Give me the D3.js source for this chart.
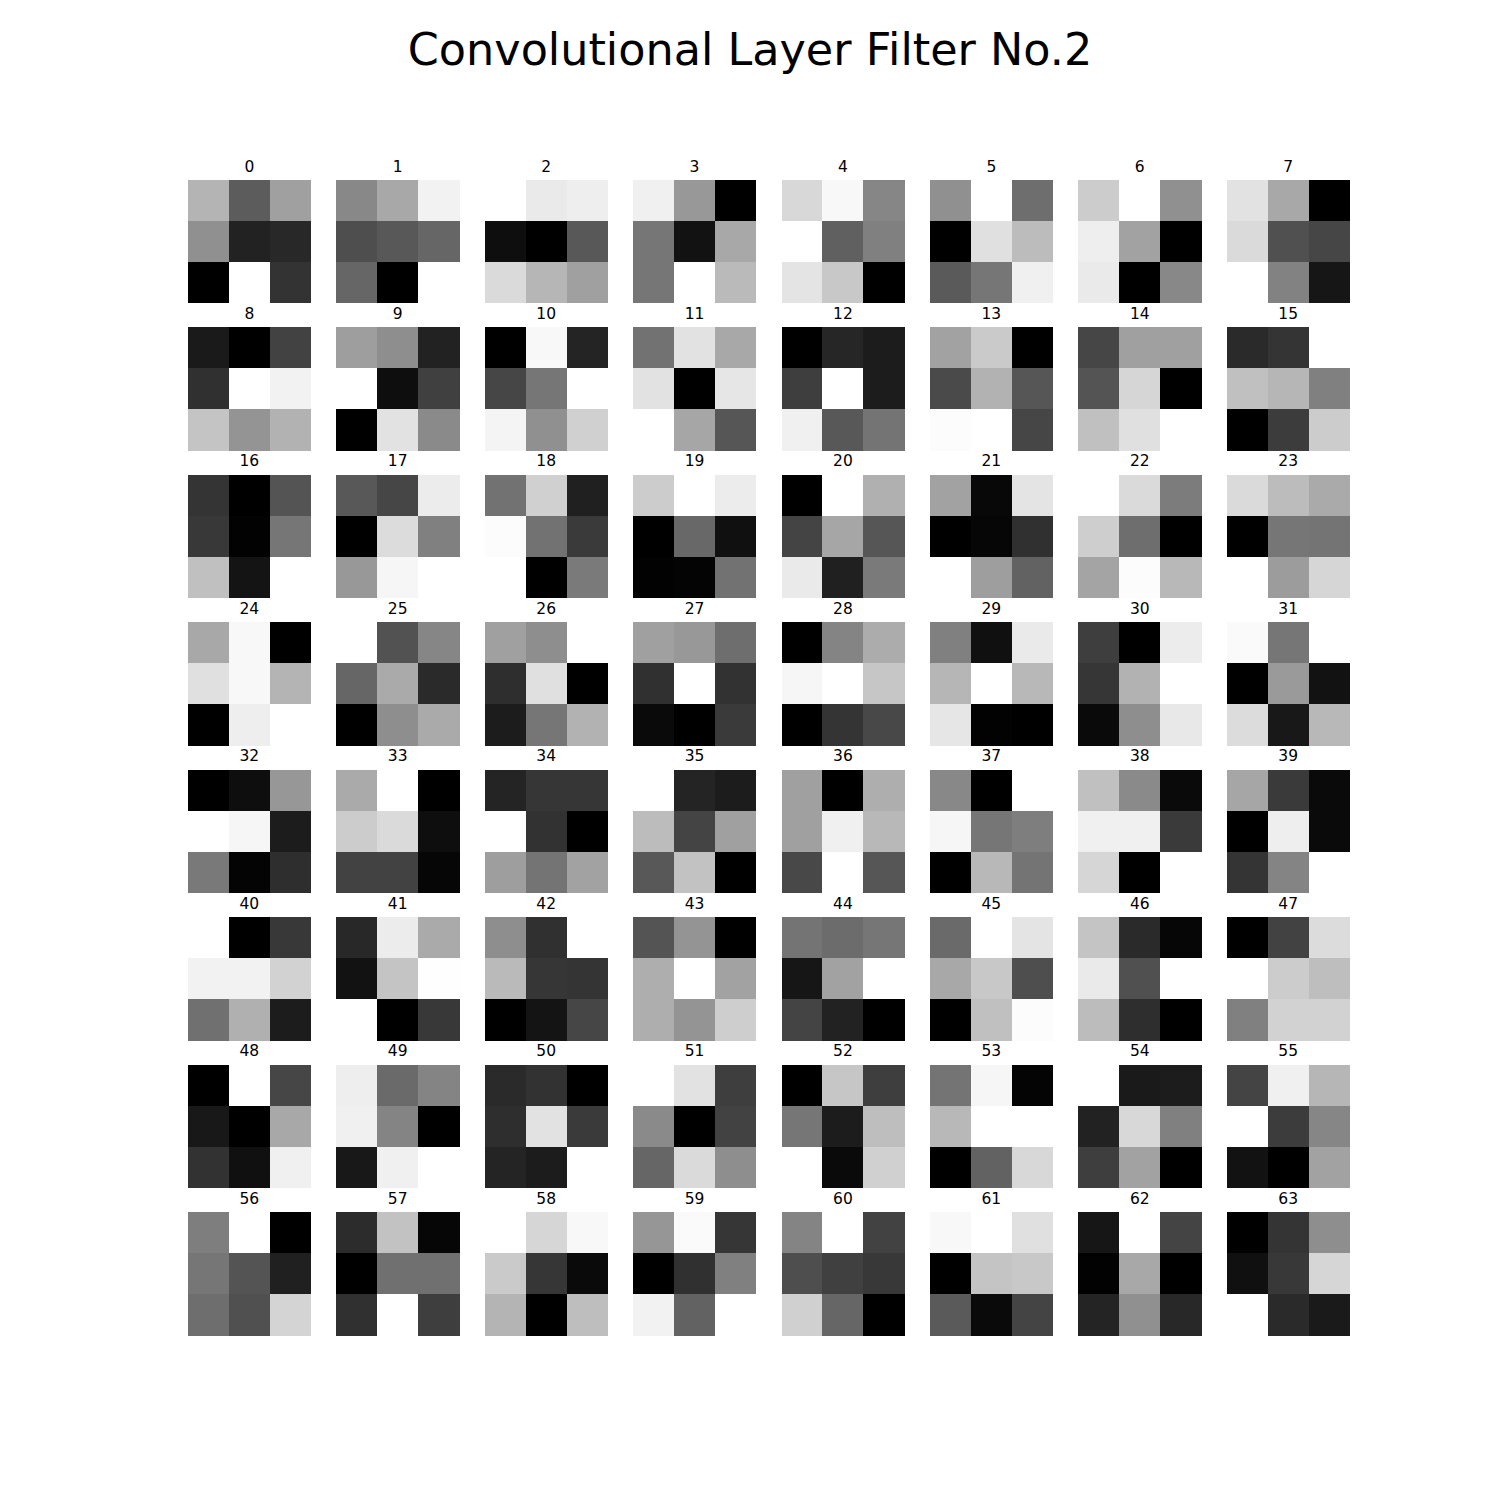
<!DOCTYPE html>
<html>
<head>
<meta charset="utf-8">
<script src="https://cdn.jsdelivr.net/npm/d3@7"></script>
<style>
  body { margin: 0; background: #fff; }
  text { font-family: "DejaVu Sans", sans-serif; }
</style>
</head>
<body>
<svg id="chart"></svg>
<script>
var filterWeights = [
  [0xb4,0x5c,0xa0, 0x90,0x22,0x28, 0x00,0xff,0x33],
  [0x88,0xa8,0xf2, 0x4e,0x58,0x66, 0x66,0x00,0xff],
  [0xff,0xea,0xee, 0x0e,0x00,0x58, 0xda,0xb6,0xa0],
  [0xf0,0x98,0x00, 0x76,0x12,0xa8, 0x76,0xff,0xba],
  [0xd8,0xf8,0x86, 0xff,0x60,0x80, 0xe4,0xc8,0x00],
  [0x90,0xff,0x6e, 0x00,0xe0,0xbc, 0x5a,0x76,0xf0],
  [0xcc,0xff,0x90, 0xee,0xa2,0x00, 0xea,0x00,0x88],
  [0xe2,0xa8,0x00, 0xda,0x50,0x46, 0xff,0x82,0x16],
  [0x1a,0x00,0x42, 0x30,0xff,0xf2, 0xc4,0x94,0xb2],
  [0x9e,0x8e,0x22, 0xff,0x0e,0x40, 0x00,0xe2,0x8a],
  [0x00,0xf8,0x24, 0x46,0x76,0xff, 0xf4,0x90,0xd0],
  [0x72,0xe2,0xa8, 0xe2,0x00,0xe6, 0xff,0xa6,0x56],
  [0x00,0x26,0x1c, 0x3e,0xff,0x1c, 0xf0,0x58,0x74],
  [0xa2,0xca,0x00, 0x4a,0xb2,0x56, 0xfc,0xff,0x46],
  [0x46,0xa0,0xa0, 0x54,0xd6,0x00, 0xc0,0xe0,0xff],
  [0x2a,0x34,0xff, 0xc0,0xb6,0x80, 0x00,0x3c,0xcc],
  [0x34,0x00,0x54, 0x38,0x02,0x76, 0xc0,0x14,0xff],
  [0x58,0x46,0xec, 0x00,0xdc,0x80, 0x98,0xf6,0xff],
  [0x72,0xd0,0x20, 0xfc,0x72,0x3a, 0xff,0x00,0x7a],
  [0xcc,0xff,0xec, 0x00,0x68,0x10, 0x02,0x04,0x72],
  [0x00,0xff,0xb0, 0x44,0xa6,0x56, 0xea,0x20,0x7a],
  [0xa2,0x08,0xe4, 0x00,0x06,0x30, 0xff,0x9e,0x62],
  [0xff,0xda,0x7c, 0xce,0x6e,0x00, 0xa4,0xfc,0xb8],
  [0xda,0xbc,0xaa, 0x00,0x76,0x74, 0xff,0x9c,0xd6],
  [0xa8,0xf8,0x00, 0xe0,0xf8,0xb4, 0x00,0xee,0xff],
  [0xff,0x52,0x86, 0x66,0xaa,0x2a, 0x00,0x8e,0xaa],
  [0xa0,0x8e,0xff, 0x2e,0xe0,0x00, 0x1c,0x76,0xb2],
  [0xa0,0x98,0x6e, 0x30,0xff,0x32, 0x0a,0x00,0x3a],
  [0x00,0x84,0xac, 0xf6,0xff,0xc6, 0x00,0x34,0x48],
  [0x80,0x10,0xea, 0xb6,0xff,0xb8, 0xe6,0x02,0x00],
  [0x3e,0x00,0xec, 0x36,0xb2,0xff, 0x0a,0x8e,0xe8],
  [0xfa,0x76,0xff, 0x00,0x9a,0x12, 0xdc,0x18,0xb8],
  [0x02,0x10,0x98, 0xff,0xf6,0x1e, 0x7a,0x06,0x30],
  [0xaa,0xff,0x00, 0xcc,0xda,0x0e, 0x42,0x42,0x06],
  [0x24,0x36,0x36, 0xff,0x32,0x00, 0x9e,0x74,0xa2],
  [0xff,0x24,0x1c, 0xbc,0x44,0xa0, 0x58,0xc2,0x00],
  [0xa0,0x00,0xae, 0xa0,0xf0,0xb8, 0x48,0xff,0x56],
  [0x88,0x00,0xff, 0xf6,0x76,0x7e, 0x00,0xb8,0x74],
  [0xc0,0x8a,0x0a, 0xf0,0xf0,0x3a, 0xd6,0x00,0xff],
  [0xa6,0x3a,0x0a, 0x00,0xee,0x0a, 0x34,0x84,0xff],
  [0xff,0x00,0x38, 0xf2,0xf2,0xd2, 0x70,0xb0,0x1c],
  [0x28,0xec,0xaa, 0x12,0xc4,0xfe, 0xff,0x00,0x38],
  [0x8e,0x30,0xff, 0xba,0x36,0x34, 0x00,0x14,0x46],
  [0x54,0x94,0x00, 0xae,0xff,0xa2, 0xae,0x94,0xce],
  [0x74,0x6c,0x76, 0x16,0xa2,0xff, 0x44,0x22,0x00],
  [0x6a,0xff,0xe4, 0xa8,0xc8,0x4e, 0x00,0xc0,0xfc],
  [0xc4,0x2a,0x06, 0xea,0x50,0xff, 0xbc,0x2e,0x00],
  [0x00,0x42,0xdc, 0xff,0xcc,0xbe, 0x80,0xd2,0xd2],
  [0x00,0xff,0x46, 0x18,0x00,0xa8, 0x32,0x10,0xf0],
  [0xee,0x6a,0x84, 0xf0,0x84,0x00, 0x18,0xf0,0xff],
  [0x2a,0x32,0x00, 0x2e,0xe2,0x3a, 0x24,0x1c,0xff],
  [0xff,0xe2,0x3e, 0x8a,0x00,0x42, 0x66,0xda,0x8e],
  [0x00,0xc6,0x3e, 0x76,0x1c,0xbe, 0xff,0x0a,0xd0],
  [0x74,0xf6,0x04, 0xb8,0xff,0xff, 0x00,0x62,0xd8],
  [0xff,0x1a,0x1c, 0x22,0xd8,0x80, 0x3e,0xa2,0x00],
  [0x44,0xf0,0xb6, 0xff,0x3c,0x86, 0x12,0x00,0xa2],
  [0x7e,0xff,0x00, 0x76,0x54,0x20, 0x6e,0x50,0xd4],
  [0x2c,0xc2,0x06, 0x00,0x70,0x70, 0x30,0xff,0x3e],
  [0xff,0xd6,0xf8, 0xca,0x36,0x0a, 0xb4,0x00,0xbe],
  [0x96,0xfa,0x36, 0x00,0x30,0x80, 0xf2,0x62,0xff],
  [0x84,0xff,0x42, 0x4e,0x40,0x38, 0xd0,0x66,0x00],
  [0xf8,0xff,0xe0, 0x00,0xc4,0xc8, 0x5a,0x0a,0x44],
  [0x16,0xff,0x44, 0x02,0xa8,0x00, 0x24,0x90,0x28],
  [0x00,0x34,0x8e, 0x10,0x38,0xd6, 0xff,0x2a,0x1a]
];
var filterLabels = d3.range(filterWeights.length).map(String);
var gridCols = d3.range(8);
var gridRows = d3.range(8);
var kernelIdx = [0, 1, 2];
var title = 'Convolutional Layer Filter No.2';

var width = 1500, height = 1500;
var margin = {top: 180, right: 150, bottom: 165, left: 187.5};

var svg = d3.select('#chart')
    .attr('width', width)
    .attr('height', height);

svg.append('text')
    .attr('x', width / 2)
    .attr('y', 64.5)
    .attr('text-anchor', 'middle')
    .style('font-size', '44.5px')
    .text(title);

// subplot grid, wspace = hspace = 0.2
var colScale = d3.scaleBand()
    .domain(gridCols)
    .range([margin.left, width - margin.right])
    .paddingInner(0.2 / 1.2);
var rowScale = d3.scaleBand()
    .domain(gridRows)
    .range([margin.top, height - margin.bottom])
    .paddingInner(0.2 / 1.2);

var side = Math.min(colScale.bandwidth(), rowScale.bandwidth());

filterWeights.forEach(function(vals, i) {
    var c = i % 8, r = Math.floor(i / 8);
    var x0 = colScale(c) + (colScale.bandwidth() - side) / 2;
    var y0 = rowScale(r) + (rowScale.bandwidth() - side) / 2;

    var g = svg.append('g')
        .attr('transform', `translate(${x0}, ${y0})`);

    var cell = d3.scaleBand().domain(kernelIdx).range([0, side]);
    var gray = d3.scaleLinear()
        .domain(d3.extent(vals))
        .range(['#000000', '#ffffff'])
        .interpolate(d3.interpolateRgb);

    g.selectAll('rect')
        .data(vals)
        .join('rect')
        .attr('x', (d, k) => cell(k % 3))
        .attr('y', (d, k) => cell(Math.floor(k / 3)))
        .attr('width', cell.bandwidth() + 0.5)
        .attr('height', cell.bandwidth() + 0.5)
        .attr('shape-rendering', 'crispEdges')
        .style('fill', d => gray(d));

    g.append('text')
        .attr('x', side / 2)
        .attr('y', -8.5)
        .attr('text-anchor', 'middle')
        .style('font-size', '15.5px')
        .text(filterLabels[i]);
});
</script>
</body>
</html>
